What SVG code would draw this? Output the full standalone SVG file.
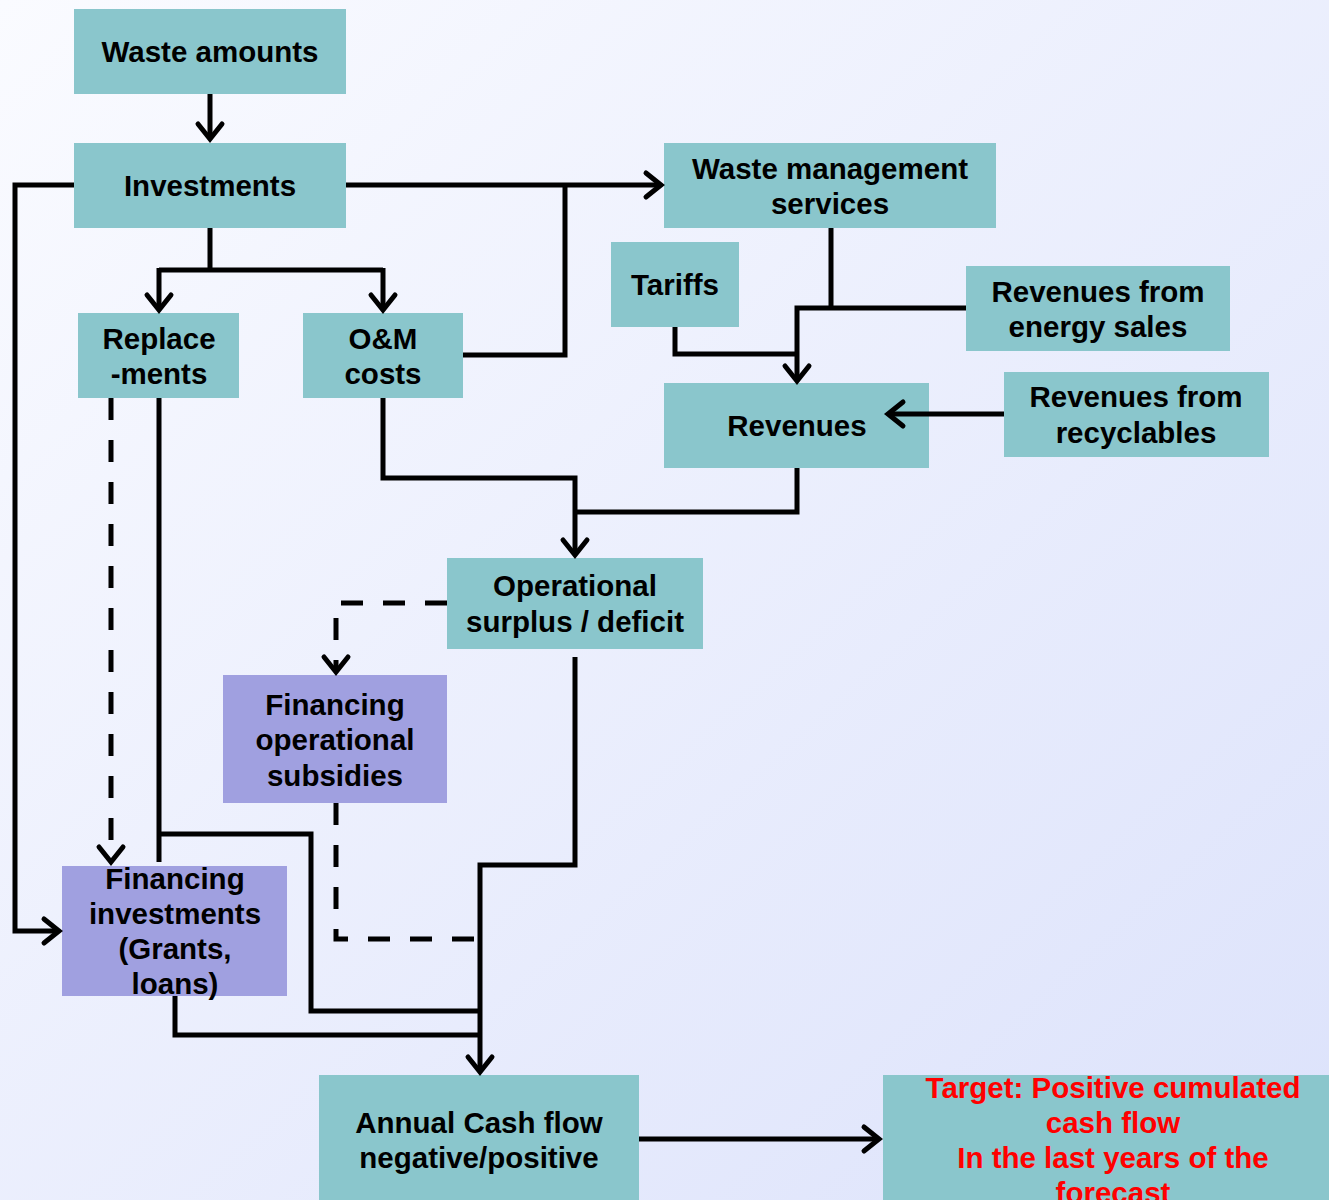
<svg xmlns="http://www.w3.org/2000/svg" width="1329" height="1200" viewBox="0 0 1329 1200">
<defs>
<linearGradient id="bg" x1="0" y1="0" x2="1" y2="1">
<stop offset="0" stop-color="#fafbff"/>
<stop offset="1" stop-color="#dce2fb"/>
</linearGradient>
<style>
.t{fill:#8ac6cc}
.p{fill:#a0a0e0}
text{font-family:"Liberation Sans",Arial,sans-serif;font-weight:bold;font-size:29.5px;fill:#000;text-anchor:middle}
.r{fill:#ff0000}
.c{fill:none;stroke:#000;stroke-width:5;stroke-linejoin:miter}
.d{stroke-dasharray:22,20}
.a{fill:none;stroke:#000;stroke-width:5;stroke-linecap:round;stroke-linejoin:miter}
</style>
</defs>
<rect width="1329" height="1200" fill="url(#bg)"/>
<g id="waste-amounts"><rect class="t" x="74" y="9" width="272" height="85"/><text x="210" y="62">Waste amounts</text></g>
<g id="investments"><rect class="t" x="74" y="143" width="272" height="85"/><text x="210" y="196">Investments</text></g>
<g id="wms"><rect class="t" x="664" y="143" width="332" height="85"/><text x="830" y="179">Waste management</text><text x="830" y="214">services</text></g>
<g id="tariffs"><rect class="t" x="611" y="242" width="128" height="85"/><text x="675" y="295">Tariffs</text></g>
<g id="rev-energy"><rect class="t" x="966" y="266" width="264" height="85"/><text x="1098" y="302">Revenues from</text><text x="1098" y="337">energy sales</text></g>
<g id="replacements"><rect class="t" x="78" y="313" width="161" height="85"/><text x="159" y="349">Replace</text><text x="159" y="384">-ments</text></g>
<g id="om-costs"><rect class="t" x="303" y="313" width="160" height="85"/><text x="383" y="349">O&amp;M</text><text x="383" y="384">costs</text></g>
<g id="revenues"><rect class="t" x="664" y="383" width="265" height="85"/><text x="797" y="436">Revenues</text></g>
<g id="rev-recyclables"><rect class="t" x="1004" y="372" width="265" height="85"/><text x="1136" y="407">Revenues from</text><text x="1136" y="443">recyclables</text></g>
<g id="op-surplus"><rect class="t" x="447" y="558" width="256" height="91"/><text x="575" y="596">Operational</text><text x="575" y="632">surplus / deficit</text></g>
<g id="fin-op-subsidies"><rect class="p" x="223" y="675" width="224" height="128"/><text x="335" y="715">Financing</text><text x="335" y="750">operational</text><text x="335" y="786">subsidies</text></g>
<g id="fin-investments"><rect class="p" x="62" y="866" width="225" height="130"/><text x="175" y="889">Financing</text><text x="175" y="924">investments</text><text x="175" y="959">(Grants,</text><text x="175" y="994">loans)</text></g>
<g id="annual-cash-flow"><rect class="t" x="319" y="1075" width="320" height="125"/><text x="479" y="1133">Annual Cash flow</text><text x="479" y="1168">negative/positive</text></g>
<g id="target"><rect class="t" x="883" y="1075" width="446" height="125"/><text class="r" x="1113" y="1098">Target: Positive cumulated</text><text class="r" x="1113" y="1133">cash flow</text><text class="r" x="1113" y="1168">In the last years of the</text><text class="r" x="1113" y="1203">forecast</text></g>
<g id="connectors">
<path class="c" d="M210,94V138"/><path class="a" d="M198,124L210,139L222,124"/>
<path class="c" d="M74,185H15V931H58"/><path class="a" d="M44,919L59,931L44,943"/>
<path class="c" d="M346,185H660"/><path class="a" d="M646,173L661,185L646,197"/>
<path class="c" d="M463,355H565V185"/>
<path class="c" d="M210,228V270M159,270H383M159,268V309M383,268V309"/>
<path class="a" d="M147,295L159,310L171,295"/><path class="a" d="M371,295L383,310L395,295"/>
<path class="c" d="M831,228V308M966,308H797V379"/><path class="a" d="M785,366L797,381L809,366"/>
<path class="c" d="M675,327V354H797"/>
<path class="c" d="M1004,414H888"/><path class="a" d="M903,402L888,414L903,426"/>
<path class="c" d="M383,398V478H575V553"/><path class="a" d="M563,540L575,555L587,540"/>
<path class="c" d="M797,468V512H575"/>
<path class="c d" d="M447,603H336V670"/><path class="a" d="M324,657L336,672L348,657"/>
<path class="c d" d="M111,398V860"/><path class="a" d="M99,847L111,862L123,847"/>
<path class="c" d="M159,398V862M159,834H311V1011H480"/>
<path class="c" d="M575,657V865H480V1070"/><path class="a" d="M468,1057L480,1072L492,1057"/>
<path class="c d" d="M336,803V939H480"/>
<path class="c" d="M175,996V1035H480"/>
<path class="c" d="M639,1139H878"/><path class="a" d="M864,1127L879,1139L864,1151"/>
</g>
</svg>
